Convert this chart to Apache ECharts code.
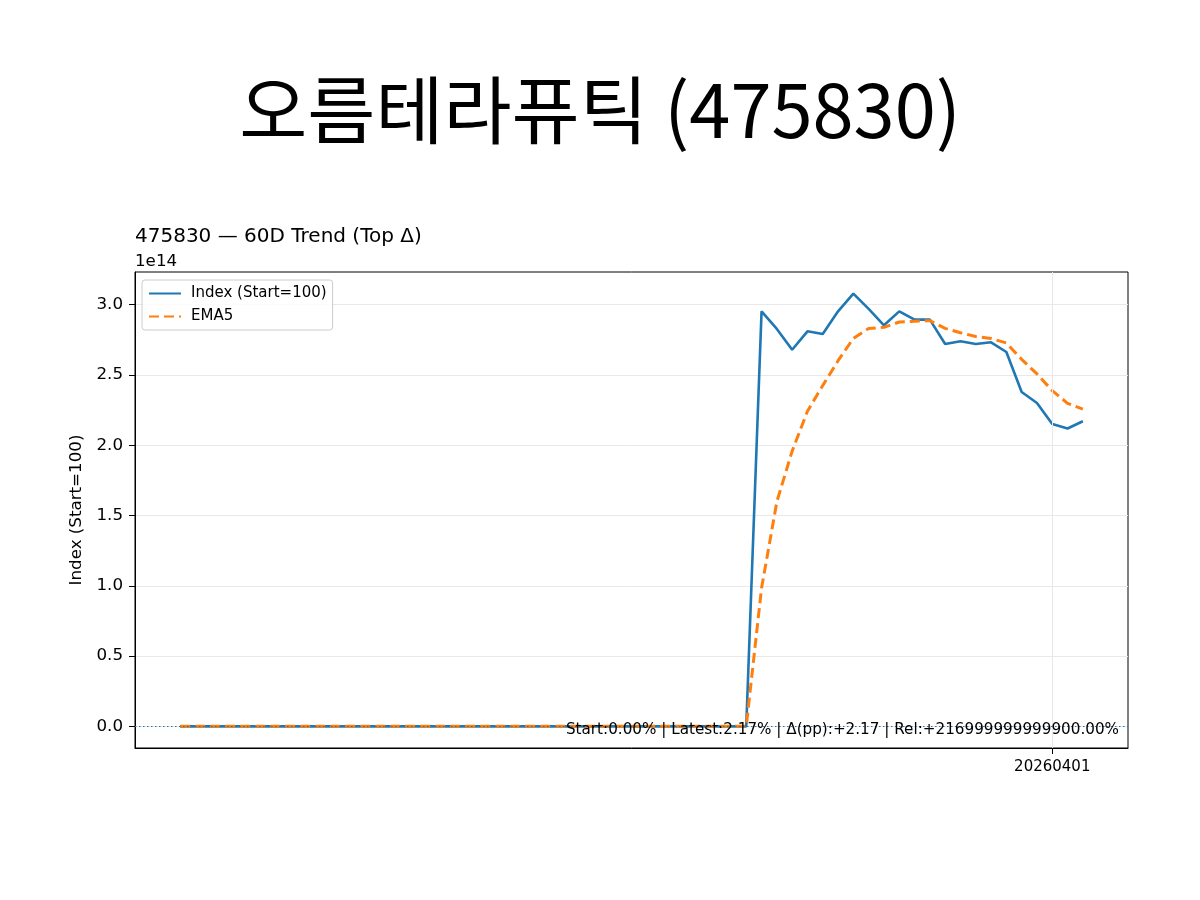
<!DOCTYPE html>
<html>
<head>
<meta charset="utf-8">
<script src="https://cdn.jsdelivr.net/npm/echarts@6/dist/echarts.min.js"></script>
<style>
  html, body { margin: 0; padding: 0; background: #fff; }
  #container { width: 1200px; height: 900px; }
</style>
</head>
<body>
<div id="container"></div>
<script>
// trading days (x categories)
var dates = [
  "20260106","20260107","20260108","20260109","20260112","20260113","20260114","20260115","20260116","20260119",
  "20260120","20260121","20260122","20260123","20260126","20260127","20260128","20260129","20260130","20260202",
  "20260203","20260204","20260205","20260206","20260209","20260210","20260211","20260212","20260213","20260219",
  "20260220","20260223","20260224","20260225","20260226","20260227","20260303","20260304","20260305","20260306",
  "20260309","20260310","20260311","20260312","20260313","20260316","20260317","20260318","20260319","20260320",
  "20260323","20260324","20260325","20260326","20260327","20260330","20260331","20260401","20260402","20260403"
];
// index values, in units of 1e14 (start = 100 -> ~0 at this scale)
var indexVals = [
  1e-12,1e-12,1e-12,1e-12,1e-12,1e-12,1e-12,1e-12,1e-12,1e-12,
  1e-12,1e-12,1e-12,1e-12,1e-12,1e-12,1e-12,1e-12,1e-12,1e-12,
  1e-12,1e-12,1e-12,1e-12,1e-12,1e-12,1e-12,1e-12,1e-12,1e-12,
  1e-12,1e-12,1e-12,1e-12,1e-12,1e-12,1e-12,1e-12,2.952,2.827,
  2.679,2.810,2.791,2.952,3.078,2.970,2.853,2.952,2.893,2.893,
  2.720,2.739,2.720,2.732,2.663,2.378,2.300,2.150,2.119,2.170
];
var ema5Vals = [
  1e-12,1e-12,1e-12,1e-12,1e-12,1e-12,1e-12,1e-12,1e-12,1e-12,
  1e-12,1e-12,1e-12,1e-12,1e-12,1e-12,1e-12,1e-12,1e-12,1e-12,
  1e-12,1e-12,1e-12,1e-12,1e-12,1e-12,1e-12,1e-12,1e-12,1e-12,
  1e-12,1e-12,1e-12,1e-12,1e-12,1e-12,1e-12,1e-12,0.984,1.598,
  1.958,2.242,2.425,2.601,2.760,2.830,2.838,2.876,2.882,2.886,
  2.831,2.800,2.773,2.759,2.727,2.611,2.507,2.388,2.298,2.256
];
var yTicks = [0, 0.5, 1.0, 1.5, 2.0, 2.5, 3.0];
var xTickIdx = [57];
var SCALE = 1e14;

var indexData = indexVals.map(function (v, i) { return [i, v * SCALE]; });
var emaData = ema5Vals.map(function (v, i) { return [i, v * SCALE]; });
var yTickVals = yTicks.map(function (t) { return t * SCALE; });

var font = "DejaVu Sans";
var chart = echarts.init(document.getElementById("container"));

var option = {
  animation: false,
  backgroundColor: "#fff",
  grid: { left: 135, right: 72, top: 272, bottom: 152, containLabel: false,
          show: true, borderColor: "#000", borderWidth: 1, backgroundColor: "transparent" },
  legend: {
    orient: "vertical", left: 142, top: 280,
    padding: [6, 6, 6, 6], itemGap: 8, itemWidth: 32, itemHeight: 14,
    backgroundColor: "rgba(255,255,255,0.8)", borderColor: "#cccccc", borderWidth: 1, borderRadius: 3,
    itemStyle: { opacity: 0 },
    textStyle: { fontFamily: font, fontSize: 15, color: "#000", padding: [0, 0, 0, 5] },
    data: ["Index (Start=100)", "EMA5"]
  },
  xAxis: {
    type: "value", min: -2.95, max: 61.95,
    axisLine: { show: true, onZero: false, lineStyle: { color: "#000", width: 1 } },
    axisTick: { show: true, length: 6, lineStyle: { color: "#000" }, customValues: xTickIdx },
    axisLabel: { customValues: xTickIdx, margin: 12, fontFamily: font, fontSize: 15, color: "#000",
                 formatter: function (v) { return dates[Math.round(v)]; } },
    splitLine: { show: false }
  },
  yAxis: {
    type: "value", min: -0.1539 * SCALE, max: 3.2319 * SCALE,
    name: "Index (Start=100)", nameLocation: "middle", nameGap: 47, nameRotate: 90,
    nameTextStyle: { fontFamily: font, fontSize: 16.7, color: "#000" },
    axisLine: { show: true, onZero: false, lineStyle: { color: "#000", width: 1 } },
    axisTick: { show: true, length: 6, lineStyle: { color: "#000" }, customValues: yTickVals },
    axisLabel: { customValues: yTickVals, margin: 12,
                 fontFamily: font, fontSize: 16.7, color: "#000",
                 formatter: function (v) { return (v / SCALE).toFixed(1); } },
    splitLine: { show: true, lineStyle: { color: "#e8e8e8", width: 1 } }
  },
  series: [
    {
      name: "guides", type: "line", data: [], z: 1, silent: true,
      markLine: {
        silent: true, symbol: "none", label: { show: false }, animation: false,
        data: [
          { xAxis: 57, lineStyle: { color: "#e8e8e8", width: 1, type: "solid" } },
          { yAxis: 0, lineStyle: { color: "#1f77b4", width: 1, type: [1.5, 2.5] } }
        ]
      }
    },
    {
      name: "Index (Start=100)", type: "line", data: indexData, z: 3,
      symbol: "none", showSymbol: false,
      lineStyle: { color: "#1f77b4", width: 2.6 }, itemStyle: { color: "#1f77b4" }
    },
    {
      name: "EMA5", type: "line", data: emaData, z: 4,
      symbol: "none", showSymbol: false,
      lineStyle: { color: "#ff7f0e", width: 3, type: [10, 5] }, itemStyle: { color: "#ff7f0e" }
    }
  ],
  graphic: [
    { type: "text", x: 600, y: 110, z: 10,
      style: { text: "오름테라퓨틱 (475830)", fontFamily: "Noto Sans CJK KR", fontSize: 74, fill: "#000",
               textAlign: "center", textVerticalAlign: "middle" } },
    { type: "text", x: 135, y: 237, z: 10,
      style: { text: "475830 — 60D Trend (Top Δ)", fontFamily: font, fontSize: 20, fill: "#000",
               textVerticalAlign: "middle" } },
    { type: "text", x: 135, y: 262, z: 10,
      style: { text: "1e14", fontFamily: font, fontSize: 16.7, fill: "#000", textVerticalAlign: "middle" } },
    { type: "text", x: 1119, y: 730, z: 10,
      style: { text: "Start:0.00% | Latest:2.17% | Δ(pp):+2.17 | Rel:+216999999999900.00%",
               fontFamily: font, fontSize: 15.2, fill: "#000", textAlign: "right", textVerticalAlign: "middle" } }
  ]
};
chart.setOption(option);
</script>
</body>
</html>
